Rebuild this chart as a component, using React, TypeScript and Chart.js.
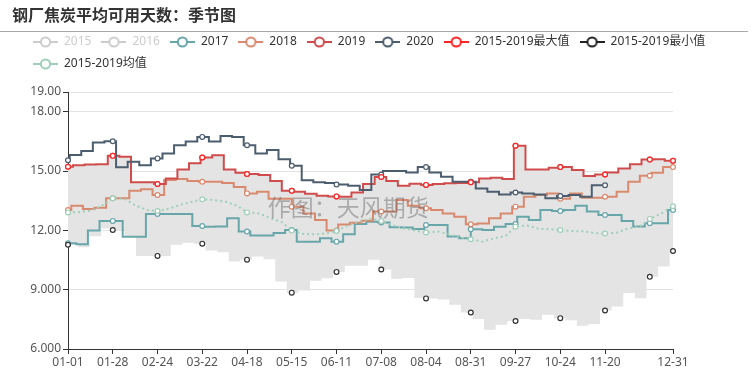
import React, { useEffect, useRef } from 'react';
import { Chart, registerables } from 'chart.js';

Chart.register(...registerables);

// ---------------- data ----------------
const TITLE = '钢厂焦炭平均可用天数：季节图';
const WATERMARK = '作图：天风期货';

const SERIES_NAMES = ['2015', '2016', '2017', '2018', '2019', '2020', '2015-2019最大值', '2015-2019最小值', '2015-2019均值'];
const SERIES_COLORS = ['#cccccc', '#cccccc', '#68a6aa', '#d9896e', '#d04c4c', '#4c5d6e', '#ff2424', '#222222', '#9fcfb9'];

const Y_TICKS = [6, 9, 12, 15, 18, 19];
const X_TICK_DAYS = [0, 27, 54, 81, 108, 135, 162, 189, 216, 243, 270, 297, 324, 365];
const X_TICK_LABELS = ['01-01', '01-28', '02-24', '03-22', '04-18', '05-15', '06-11', '07-08', '08-04', '08-31', '09-27', '10-24', '11-20', '12-31'];
const MARKER_DAYS = [0, 27, 54, 81, 108, 135, 162, 189, 216, 243, 270, 297, 324, 351, 365];
const LAST_DAY = 365;
const WEEK = 7;

// weekly values (value[0] holds from 01-01 until the first weekly update day)
const V2015: number[] = [];
const V2016: number[] = [];

const V2017_FIRST_STEP = 5;
const V2017 = [
  11.35, 11.3, 11.99, 12.48, 12.48, 11.68, 11.68, 12.83, 12.83, 12.83, 12.83, 12.22, 12.19, 12.2,
  12.61, 11.94, 11.74, 11.74, 11.87, 12.02, 11.43, 11.43, 11.6, 11.43, 11.8, 12.32, 12.44, 12.4,
  12.16, 12.14, 12.07, 12.27, 12.27, 11.69, 11.6, 12.06, 12.02, 12.19, 12.32, 12.69, 12.53, 13.03,
  12.98, 13.03, 13.25, 12.95, 12.78, 12.78, 12.48, 12.2, 12.36, 12.36, 13.03,
];

const V2018_FIRST_STEP = 2;
const V2018 = [
  13.03, 13.25, 13.08, 13.15, 13.62, 13.62, 14.0, 14.08, 13.79, 14.55, 14.6, 14.5, 14.46, 14.46,
  14.4, 14.2, 13.87, 13.95, 13.6, 13.6, 13.2, 12.86, 12.53, 12.0, 12.3, 12.39, 12.49, 12.95,
  12.95, 13.54, 13.25, 13.12, 13.03, 12.86, 12.69, 12.31, 12.35, 12.61, 12.86, 13.2, 13.7, 13.79,
  13.87, 13.6, 13.87, 13.65, 13.65, 13.7, 13.96, 14.46, 14.76, 14.91, 15.2,
];

const V2019_FIRST_STEP = 3;
const V2019 = [
  15.22, 15.3, 15.33, 15.35, 15.77, 15.72, 14.43, 14.43, 14.35, 14.63, 15.08, 15.39, 15.69, 15.8,
  15.08, 14.91, 14.85, 14.8, 14.5, 14.0, 13.96, 13.85, 13.75, 13.72, 13.7, 13.92, 14.34, 14.7,
  14.5, 14.26, 14.36, 14.3, 14.34, 14.38, 14.4, 14.43, 14.62, 14.66, 14.6, 16.28, 15.08, 15.08,
  15.17, 15.2, 15.05, 14.75, 14.83, 14.93, 15.13, 15.34, 15.58, 15.6, 15.52,
];

const V2020_FIRST_STEP = 1;
const V2020_LAST_DAY = 324;
const V2020 = [
  15.55, 15.81, 16.01, 16.45, 16.51, 15.19, 15.47, 15.3, 15.64, 15.89, 16.31, 16.5, 16.73, 16.5,
  16.77, 16.73, 16.31, 15.89, 16.06, 15.6, 15.27, 14.54, 14.43, 14.4, 14.32, 14.26, 14.04, 14.83,
  15.0, 15.0, 14.93, 15.2, 14.93, 14.71, 14.46, 14.46, 14.12, 13.96, 13.82, 13.92, 13.87, 13.82,
  13.62, 13.74, 13.79, 13.7, 14.28,
];

// the 2015-2019 maximum coincides with the 2019 line in the picture
const MAX_FIRST_STEP = 3;
const MAX_VALUES = [
  15.22, 15.3, 15.33, 15.35, 15.77, 15.72, 14.43, 14.43, 14.35, 14.63, 15.08, 15.39, 15.69, 15.8,
  15.08, 14.91, 14.85, 14.8, 14.5, 14.0, 13.96, 13.85, 13.75, 13.72, 13.7, 13.92, 14.34, 14.7,
  14.5, 14.26, 14.36, 14.3, 14.34, 14.38, 14.4, 14.43, 14.62, 14.66, 14.6, 16.28, 15.08, 15.08,
  15.17, 15.2, 15.05, 14.75, 14.83, 14.93, 15.13, 15.34, 15.58, 15.6, 15.52,
];

const MIN_FIRST_STEP = 6;
const MIN_VALUES = [
  11.27, 11.15, 11.7, 12.1, 12.02, 11.68, 10.71, 10.71, 10.71, 11.27, 11.38, 11.33, 10.98, 10.9,
  10.42, 10.52, 10.68, 10.54, 9.42, 8.85, 8.96, 9.45, 9.58, 9.9, 10.21, 10.21, 10.51, 10.02,
  9.55, 9.59, 8.58, 8.56, 8.5, 8.24, 7.85, 7.52, 6.98, 7.23, 7.42, 7.52, 7.48, 7.73, 7.56,
  7.45, 7.18, 7.27, 7.95, 8.15, 8.83, 8.57, 9.65, 10.17, 10.96,
];

const AVG_DAYS = [
  0, 7, 14, 21, 27, 34, 41, 48, 54, 61, 68, 75, 81, 88, 95, 102, 108, 115, 122, 129, 135, 142, 149,
  156, 162, 169, 176, 183, 189, 196, 203, 210, 216, 223, 230, 237, 243, 250, 257, 264, 270, 277,
  284, 291, 297, 304, 311, 318, 324, 331, 338, 345, 351, 358, 365,
];
const AVG_VALUES = [
  12.91, 12.93, 13.0, 13.28, 13.62, 13.6, 13.25, 13.02, 12.98, 13.1, 13.3, 13.45, 13.57, 13.54,
  13.45, 13.25, 12.91, 12.86, 12.62, 12.42, 11.99, 11.82, 11.8, 11.85, 11.97, 12.25, 12.45, 12.6,
  12.47, 12.25, 12.1, 11.98, 11.89, 11.95, 11.8, 11.62, 11.55, 11.43, 11.6, 11.72, 12.19, 12.25,
  12.08, 12.06, 12.02, 11.97, 11.95, 11.86, 11.84, 11.88, 12.1, 12.2, 12.58, 12.86, 13.22,
];

// ---------------- helpers ----------------
type Pt = { x: number; y: number; marker?: boolean };

function stepSeries(values: number[], firstStep: number, lastDay: number = LAST_DAY): Pt[] {
  if (!values.length) return [];
  const stepDays = values.map((_, k) => (k === 0 ? 0 : firstStep + WEEK * (k - 1)));
  const valueAt = (d: number) => {
    let v = values[0];
    stepDays.forEach((sd, k) => {
      if (sd <= d) v = values[k];
    });
    return v;
  };
  const map = new Map<number, Pt>();
  stepDays.forEach((d, k) => {
    if (d <= lastDay) map.set(d, { x: d, y: values[k] });
  });
  map.set(lastDay, { x: lastDay, y: valueAt(lastDay) });
  MARKER_DAYS.forEach((d) => {
    if (d <= lastDay) map.set(d, { x: d, y: valueAt(d), marker: true });
  });
  return Array.from(map.values()).sort((a, b) => a.x - b.x);
}

function linearSeries(days: number[], values: number[]): Pt[] {
  return days.map((d, i) => ({ x: d, y: values[i], marker: MARKER_DAYS.includes(d) }));
}

function legendIcon(color: string): HTMLCanvasElement {
  const c = document.createElement('canvas');
  c.width = 25;
  c.height = 14;
  const g = c.getContext('2d')!;
  g.strokeStyle = color;
  g.lineWidth = 2;
  g.beginPath();
  g.moveTo(0, 7);
  g.lineTo(25, 7);
  g.stroke();
  g.beginPath();
  g.arc(12.5, 7, 4.6, 0, Math.PI * 2);
  g.fillStyle = '#fff';
  g.fill();
  g.stroke();
  return c;
}

const FONT_FAMILY = "'Noto Sans', 'Noto Sans CJK SC', sans-serif";

export default function App() {
  const ref = useRef<HTMLCanvasElement>(null);

  useEffect(() => {
    const canvas = ref.current;
    if (!canvas) return;
    Chart.defaults.font.family = FONT_FAMILY;
    Chart.defaults.font.size = 12;

    const icons = SERIES_COLORS.map(legendIcon);
    const markerRadius = (c: any) => (c.raw && c.raw.marker ? 2.4 : 0);

    const base = (i: number, data: Pt[], extra: any = {}) => ({
      label: SERIES_NAMES[i],
      data,
      borderColor: SERIES_COLORS[i],
      backgroundColor: SERIES_COLORS[i],
      borderWidth: 2,
      pointRadius: markerRadius,
      pointHoverRadius: 0,
      pointBorderWidth: 1.2,
      pointBorderColor: SERIES_COLORS[i],
      pointBackgroundColor: '#fff',
      fill: false,
      stepped: true,
      clip: false,
      ...extra,
    });

    const datasets: any[] = [
      base(0, stepSeries(V2015, 0), { order: 8 }),
      base(1, stepSeries(V2016, 0), { order: 7 }),
      base(2, stepSeries(V2017, V2017_FIRST_STEP), { order: 6 }),
      base(3, stepSeries(V2018, V2018_FIRST_STEP), { order: 5 }),
      base(4, stepSeries(V2019, V2019_FIRST_STEP), { order: 4 }),
      base(5, stepSeries(V2020, V2020_FIRST_STEP, V2020_LAST_DAY), { order: 3 }),
      base(6, stepSeries(MAX_VALUES, MAX_FIRST_STEP), {
        order: 2,
        borderColor: 'rgba(0,0,0,0)',
        borderWidth: 0,
        backgroundColor: '#e4e4e4',
        fill: '+1',
      }),
      base(7, stepSeries(MIN_VALUES, MIN_FIRST_STEP), {
        order: 1,
        borderColor: 'rgba(0,0,0,0)',
        borderWidth: 0,
        pointBorderColor: '#333333',
      }),
      base(8, linearSeries(AVG_DAYS, AVG_VALUES), {
        order: 0,
        stepped: false,
        tension: 0,
        borderDash: [2, 3],
      }),
    ];

    const legendSpacer = {
      id: 'legendSpacer',
      beforeInit(chart: any) {
        const legend = chart.legend;
        if (!legend) return;
        const fit = legend.fit;
        legend.fit = function () {
          fit.call(this);
          this.height += 12;
        };
      },
    };

    const watermark = {
      id: 'watermark',
      afterDatasetsDraw(chart: any) {
        const { ctx, chartArea } = chart;
        ctx.save();
        ctx.font = "23px 'Noto Sans CJK SC', sans-serif";
        ctx.fillStyle = 'rgba(90,90,90,0.42)';
        ctx.textBaseline = 'middle';
        ctx.textAlign = 'left';
        ctx.fillText(
          WATERMARK,
          chartArea.left + (chartArea.right - chartArea.left) * 0.33,
          chartArea.top + (chartArea.bottom - chartArea.top) * 0.45,
        );
        ctx.restore();
      },
    };

    const chart = new Chart(canvas, {
      type: 'line',
      data: { datasets },
      options: {
        animation: false,
        responsive: false,
        devicePixelRatio: 1,
        events: [],
        layout: { padding: { left: 23, top: 26, right: 0, bottom: 0 } },
        plugins: {
          filler: { drawTime: 'beforeDatasetsDraw' },
          tooltip: { enabled: false },
          legend: {
            position: 'top',
            align: 'start',
            onClick: () => {},
            labels: {
              usePointStyle: true,
              pointStyleWidth: 25,
              padding: 10,
              font: { size: 12, family: FONT_FAMILY },
              color: '#333',
              generateLabels: () =>
                SERIES_NAMES.map((name, i) => ({
                  text: name,
                  pointStyle: icons[i],
                  fillStyle: 'rgba(0,0,0,0)',
                  strokeStyle: 'rgba(0,0,0,0)',
                  lineWidth: 0,
                  hidden: false,
                  datasetIndex: i,
                  fontColor: i < 2 ? '#cccccc' : '#333333',
                })) as any,
            },
          },
        },
        scales: {
          x: {
            type: 'linear',
            min: 0,
            max: LAST_DAY,
            grid: { display: true, drawOnChartArea: false, drawTicks: true, tickLength: 5, tickColor: '#333' },
            border: { display: true, color: '#333', width: 1 },
            ticks: {
              autoSkip: false,
              maxRotation: 0,
              minRotation: 0,
              padding: 1,
              color: '#555',
              font: { size: 12, family: FONT_FAMILY },
              callback: (v: any) => {
                const idx = X_TICK_DAYS.indexOf(Number(v));
                return idx >= 0 ? X_TICK_LABELS[idx] : '';
              },
            },
            afterBuildTicks: (s: any) => {
              s.ticks = X_TICK_DAYS.map((v) => ({ value: v }));
            },
            afterFit: (s: any) => {
              s.height = 30;
            },
          },
          y: {
            type: 'linear',
            position: 'left',
            min: Y_TICKS[0],
            max: Y_TICKS[Y_TICKS.length - 1],
            grid: { color: '#e3e3e3', tickColor: '#333', tickLength: 5, drawTicks: true },
            border: { display: true, color: '#333', width: 1 },
            ticks: {
              padding: 2,
              color: '#555',
              font: { size: 12, family: FONT_FAMILY },
              callback: (v: any) => Number(v).toPrecision(4),
            },
            afterBuildTicks: (s: any) => {
              s.ticks = Y_TICKS.map((v) => ({ value: v }));
            },
            afterFit: (s: any) => {
              s.width = 45;
            },
          },
          spacer: {
            type: 'linear',
            position: 'right',
            display: true,
            grid: { display: false, drawTicks: false },
            border: { display: false },
            ticks: { display: false },
            afterFit: (s: any) => {
              s.width = 83;
            },
          },
        },
      } as any,
      plugins: [legendSpacer, watermark],
    });

    return () => chart.destroy();
  }, []);

  return (
    <div style={{ position: 'absolute', left: 0, top: 0, width: 756, height: 379, background: '#fff', overflow: 'hidden' }}>
      <canvas ref={ref} width={756} height={379} style={{ position: 'absolute', left: 0, top: 0, width: 756, height: 379 }} />
      <div
        style={{
          position: 'absolute',
          left: 12,
          top: 3,
          fontFamily: "'Noto Sans CJK SC', sans-serif",
          fontWeight: 'bold',
          fontSize: 16,
          lineHeight: '22px',
          color: '#333',
          whiteSpace: 'nowrap',
        }}
      >
        {TITLE}
      </div>
      <div style={{ position: 'absolute', left: 0, top: 31, width: 748, height: 1, background: '#aaa' }} />
    </div>
  );
}
